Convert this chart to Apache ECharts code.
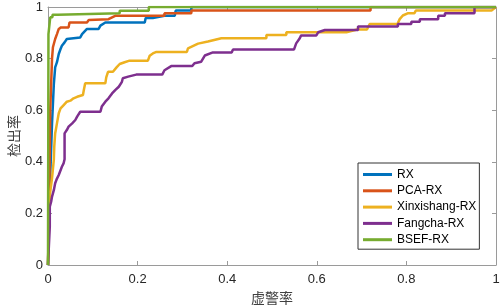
<!DOCTYPE html>
<html>
<head>
<meta charset="utf-8">
<script src="https://cdn.jsdelivr.net/npm/echarts@6/dist/echarts.min.js"></script>
<style>
  html, body { margin: 0; padding: 0; background: #fff; }
  #roc { width: 503px; height: 307px; }
</style>
</head>
<body>
<div id="roc"></div>
<script>
// ROC curves, [false alarm rate, detection rate] corner points
const seriesNames = ['RX', 'PCA-RX', 'Xinxishang-RX', 'Fangcha-RX', 'BSEF-RX'];
const xTicks = [0, 0.2, 0.4, 0.6, 0.8, 1];

const rxPts = [[0,0],[0.004,0.3],[0.009,0.55],[0.013,0.7],[0.016,0.766],[0.02,0.786],[0.024,0.818],
  [0.028,0.837],[0.031,0.85],[0.037,0.863],[0.042,0.876],[0.046,0.882],[0.072,0.882],[0.076,0.895],
  [0.08,0.902],[0.087,0.915],[0.113,0.915],[0.117,0.928],[0.128,0.94],[0.216,0.94],[0.218,0.957],
  [0.234,0.957],[0.26,0.966],[0.283,0.966],[0.285,0.986],[0.32,0.986],[0.32,1],[1,1]];

const pcaPts = [[0,0],[0.003,0.3],[0.005,0.6],[0.007,0.7],[0.009,0.8],[0.011,0.844],[0.016,0.876],
  [0.02,0.895],[0.024,0.915],[0.029,0.921],[0.046,0.921],[0.048,0.94],[0.087,0.94],[0.091,0.95],
  [0.135,0.953],[0.139,0.96],[0.15,0.966],[0.26,0.966],[0.26,0.976],[0.32,0.976],[0.32,0.986],
  [0.72,0.986],[0.72,1],[1,1]];

const xinPts = [[0,0],[0.004,0.27],[0.009,0.337],[0.013,0.407],[0.014,0.459],[0.016,0.51],[0.02,0.549],
  [0.024,0.588],[0.028,0.607],[0.035,0.62],[0.042,0.633],[0.05,0.637],[0.057,0.646],[0.065,0.652],
  [0.078,0.659],[0.08,0.678],[0.083,0.704],[0.128,0.704],[0.13,0.727],[0.134,0.749],[0.145,0.749],
  [0.153,0.766],[0.16,0.779],[0.171,0.786],[0.182,0.792],[0.223,0.792],[0.227,0.811],[0.234,0.82],
  [0.242,0.826],[0.31,0.826],[0.3125,0.84],[0.335,0.858],[0.357,0.866],[0.387,0.879],[0.4875,0.879],
  [0.4875,0.891],[0.532,0.891],[0.532,0.902],[0.666,0.902],[0.69,0.913],[0.712,0.913],[0.718,0.934],
  [0.78,0.934],[0.785,0.953],[0.792,0.967],[0.804,0.976],[0.818,0.976],[0.821,0.986],[0.99,0.986],[1,1]];

const fangPts = [[0,0],[0.004,0.149],[0.004,0.226],[0.007,0.245],[0.009,0.265],[0.013,0.29],[0.016,0.317],
  [0.02,0.335],[0.024,0.349],[0.031,0.381],[0.035,0.395],[0.037,0.41],[0.037,0.51],[0.042,0.523],
  [0.046,0.536],[0.054,0.549],[0.061,0.562],[0.065,0.575],[0.072,0.594],[0.117,0.594],[0.12,0.614],
  [0.128,0.633],[0.135,0.646],[0.143,0.665],[0.15,0.678],[0.158,0.691],[0.165,0.71],[0.167,0.724],
  [0.179,0.73],[0.197,0.738],[0.255,0.738],[0.26,0.755],[0.275,0.771],[0.322,0.771],[0.327,0.782],
  [0.342,0.788],[0.35,0.812],[0.368,0.824],[0.41,0.824],[0.413,0.835],[0.549,0.835],[0.554,0.859],
  [0.562,0.879],[0.565,0.89],[0.599,0.89],[0.603,0.902],[0.618,0.911],[0.692,0.911],[0.692,0.924],
  [0.781,0.924],[0.781,0.934],[0.811,0.934],[0.811,0.943],[0.83,0.943],[0.83,0.953],[0.871,0.953],
  [0.871,0.966],[0.886,0.966],[0.886,0.976],[0.952,0.976],[0.952,1],[1,1]];

const bsefPts = [[0,0],[0.001,0.895],[0.005,0.895],[0.005,0.96],[0.01,0.96],[0.01,0.97],[0.022,0.97],
  [0.022,0.976],[0.16,0.976],[0.16,0.985],[0.225,0.985],[0.225,1],[1,1]];

const allPts = [rxPts, pcaPts, xinPts, fangPts, bsefPts];
const colors = ['#0072BD', '#D95319', '#EDB120', '#7E2F8E', '#77AC30'];

var myChart = echarts.init(document.getElementById('roc'), null, { renderer: 'canvas' });

const axisGray = '#9a9a9a';
const labelFont = { color: '#262626', fontSize: 13, fontFamily: 'Liberation Sans, Arial, sans-serif' };
const nameFont = { color: '#404040', fontSize: 14, fontFamily: 'Noto Sans CJK SC, sans-serif' };

function boxAxis(pos) {
  return {
    type: 'value', position: pos, min: 0, max: 1, interval: 0.2,
    axisLine: { show: true, onZero: false, lineStyle: { color: axisGray, width: 1 } },
    axisTick: { show: true, inside: true, length: 4, lineStyle: { color: axisGray } },
    axisLabel: { show: false },
    splitLine: { show: false }
  };
}

option = {
  animation: false,
  backgroundColor: '#fff',
  grid: { left: 48, right: 7, top: 7, bottom: 42, containLabel: false, outerBoundsMode: 'none' },
  legend: {
    orient: 'vertical',
    left: 358, top: 163,
    padding: [5, 3, 3, 5],
    itemWidth: 29, itemHeight: 3, itemGap: 3.3,
    borderColor: '#333', borderWidth: 1, backgroundColor: '#fff',
    textStyle: { color: '#000', fontSize: 12, lineHeight: 13, fontFamily: 'Liberation Sans, Arial, sans-serif' },
    data: seriesNames.map(n => ({ name: n, icon: 'rect' }))
  },
  xAxis: [{
    type: 'value', position: 'bottom', min: 0, max: 1, interval: 0.2,
    name: '虚警率', nameLocation: 'middle', nameGap: 25, nameTextStyle: nameFont,
    axisLine: { show: true, onZero: false, lineStyle: { color: axisGray, width: 1 } },
    axisTick: { show: true, inside: true, length: 4, lineStyle: { color: axisGray } },
    axisLabel: Object.assign({ margin: 8, formatter: v => String(+v.toFixed(1)) }, labelFont),
    splitLine: { show: false }
  }, boxAxis('top')],
  yAxis: [{
    type: 'value', position: 'left', min: 0, max: 1, interval: 0.2,
    name: '检出率', nameLocation: 'middle', nameGap: 27, nameRotate: 90, nameMoveOverlap: false,
    nameTextStyle: nameFont,
    axisLine: { show: true, onZero: false, lineStyle: { color: axisGray, width: 1 } },
    axisTick: { show: true, inside: true, length: 4, lineStyle: { color: axisGray } },
    axisLabel: Object.assign({ margin: 5, formatter: v => String(+v.toFixed(1)) }, labelFont),
    splitLine: { show: false }
  }, boxAxis('right')],
  series: seriesNames.map((n, i) => ({
    name: n,
    type: 'line',
    data: allPts[i],
    showSymbol: false,
    symbol: 'none',
    color: colors[i],
    lineStyle: { color: colors[i], width: 2.5 },
    clip: true
  }))
};
myChart.setOption(option);
</script>
</body>
</html>
